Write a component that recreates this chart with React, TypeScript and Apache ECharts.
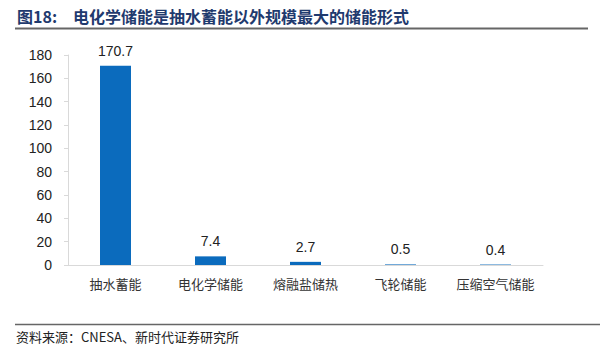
import React, { useEffect, useRef } from "react";
import * as echarts from "echarts";

const categories = ["抽水蓄能", "电化学储能", "熔融盐储热", "飞轮储能", "压缩空气储能"];
const values = [170.7, 7.4, 2.7, 0.5, 0.4];
const yTicks = [0, 20, 40, 60, 80, 100, 120, 140, 160, 180];
const titleNo = "图18:";
const titleText = "电化学储能是抽水蓄能以外规模最大的储能形式";
const sourceText = "资料来源：CNESA、新时代证券研究所";

export default function App() {
  const ref = useRef<HTMLDivElement>(null);
  useEffect(() => {
    if (!ref.current) return;
    const chart = echarts.init(ref.current, null, { renderer: "svg" });
    chart.setOption({
      animation: false,
      backgroundColor: "#ffffff",
      grid: { left: 68, right: 57, top: 55, bottom: 86, containLabel: false },
      xAxis: {
        type: "category",
        data: categories,
        axisLine: { show: true, lineStyle: { color: "#d9d9d9", width: 1 } },
        axisTick: { show: false },
        axisLabel: {
          interval: 0,
          color: "#333333",
          fontSize: 13,
          margin: 12,
          fontFamily: "Noto Sans CJK SC",
        },
      },
      yAxis: {
        type: "value",
        min: yTicks[0],
        max: yTicks[yTicks.length - 1],
        interval: 20,
        axisLine: { show: true, lineStyle: { color: "#d9d9d9", width: 1 } },
        axisTick: { show: true, length: 4, lineStyle: { color: "#d9d9d9" } },
        splitLine: { show: false },
        axisLabel: {
          color: "#222222",
          fontSize: 14,
          margin: 16,
          fontFamily: "Liberation Sans, Arial",
        },
      },
      series: [
        {
          type: "bar",
          data: values,
          barWidth: 31,
          itemStyle: { color: "#0b6bbd" },
          label: {
            show: true,
            position: "top",
            distance: 8,
            color: "#222222",
            fontSize: 14,
            fontFamily: "Liberation Sans, Arial",
            formatter: (p: any) => String(p.value),
          },
        },
      ],
      graphic: [
        {
          type: "text",
          left: 17,
          top: 8,
          style: {
            text: titleNo,
            fill: "#1f3a6e",
            font: "bold 16px 'Noto Sans CJK SC'",
          },
        },
        {
          type: "text",
          left: 73,
          top: 8,
          style: {
            text: titleText,
            fill: "#1f3a6e",
            font: "bold 16px 'Noto Sans CJK SC'",
          },
        },
        {
          type: "line",
          shape: { x1: 15, y1: 28.5, x2: 588, y2: 28.5 },
          style: { stroke: "#666666", lineWidth: 2 },
        },
        {
          type: "line",
          shape: { x1: 15, y1: 324.5, x2: 600, y2: 324.5 },
          style: { stroke: "#666666", lineWidth: 1.5 },
        },
        {
          type: "text",
          left: 16,
          top: 330,
          style: {
            text: sourceText,
            fill: "#222222",
            font: "13px 'Noto Sans CJK SC'",
          },
        },
      ],
    });
    return () => chart.dispose();
  }, []);
  return <div ref={ref} style={{ width: 600, height: 351, position: "absolute", left: 0, top: 0 }} />;
}
